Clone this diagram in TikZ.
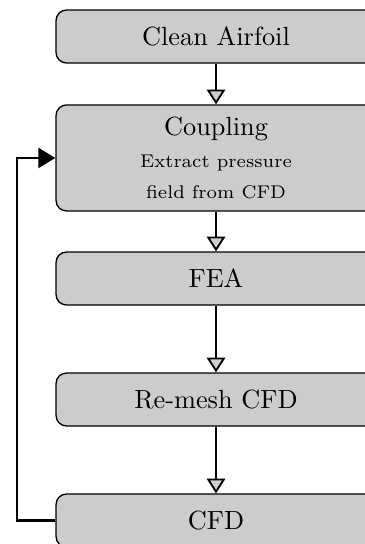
\documentclass[tikz,border=0pt]{standalone}
\usetikzlibrary{arrows.meta}
\begin{document}
\begin{tikzpicture}[x=1cm,y=1cm,>=Latex]

% Colors
\definecolor{boxgray}{RGB}{204,204,204}
\definecolor{tipgray}{RGB}{206,206,206}

% Styles
\tikzset{
  stepbox/.style={draw=black,line width=0.5pt,fill=boxgray,rounded corners=4pt,
    minimum width=4.276cm,minimum height=0.708cm,align=center,inner sep=0pt},
  flowarrow/.style={line width=0.7pt,-{Triangle[open,length=5.6pt,width=7pt,fill=tipgray]}},
  loopback/.style={line width=1pt,-{Triangle[length=6.5pt,width=7.6pt]}}
}

% Frame of the picture
\useasboundingbox (0,0) rectangle (4.878,-7.27);
\clip (0,0) rectangle (4.878,-7.27);

% Boxes
\node[stepbox] (clean) at (2.887,-0.488) {Clean Airfoil};
\node[stepbox,minimum height=1.417cm] (coupling) at (2.887,-2.111)
  {Coupling\\{\scriptsize Extract pressure}\\{\scriptsize field from CFD}};
\node[stepbox] (fea) at (2.887,-3.722) {FEA};
\node[stepbox] (remesh) at (2.887,-5.339) {Re-mesh CFD};
\node[stepbox] (cfd) at (2.887,-6.956) {CFD};

% Arrows down the chain
\draw[flowarrow] (clean.south) -- (coupling.north);
\draw[flowarrow] (coupling.south) -- (fea.north);
\draw[flowarrow] (fea.south) -- (remesh.north);
\draw[flowarrow] (remesh.south) -- (cfd.north);

% Loop back from CFD to coupling
\coordinate (loopleft) at (0.227,-6.956);
\draw[loopback] (cfd.west) -- (loopleft) |- (coupling.west);

\end{tikzpicture}
\end{document}
